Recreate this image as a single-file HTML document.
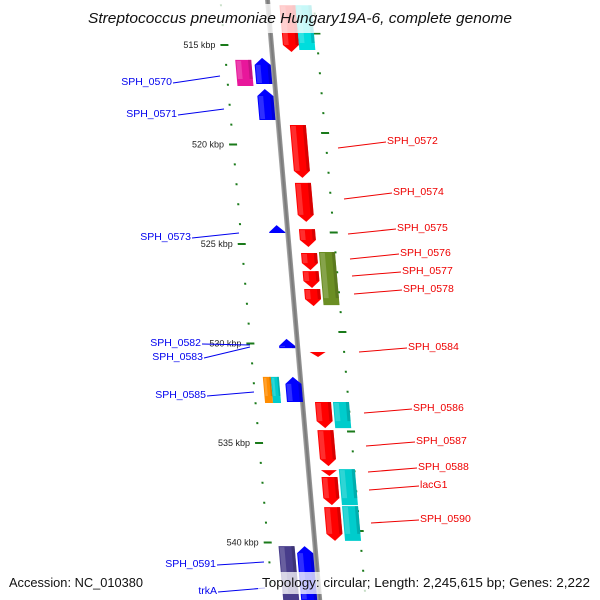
<!DOCTYPE html>
<html><head><meta charset="utf-8"><style>
html,body{margin:0;padding:0;background:#fff;}
svg{display:block;font-family:"Liberation Sans","DejaVu Sans",sans-serif;}
</style></head><body>
<svg id="chart" width="600" height="600" viewBox="0 0 600 600">
<defs>
<linearGradient id="bbg" x1="0" x2="1"><stop offset="0" stop-color="#aaa"/><stop offset="0.5" stop-color="#777"/><stop offset="1" stop-color="#999"/></linearGradient>
</defs>
<g id="tilt" transform="matrix(1,0,0.087,1,0,0)">
<rect x="265" y="0" width="5" height="600" fill="url(#bbg)"/>
<g id="ticks"></g>
<g id="genes"></g>
</g>
<g id="labels"></g>
<rect x="82" y="4" width="436" height="29" fill="#fff" fill-opacity="0.78"/>
<text x="300" y="23" text-anchor="middle" font-size="15" font-style="italic" fill="#111" textLength="424" lengthAdjust="spacingAndGlyphs">Streptococcus pneumoniae Hungary19A-6, complete genome</text>
<text x="9" y="587" font-size="13" fill="#111" textLength="134" lengthAdjust="spacingAndGlyphs">Accession: NC_010380</text>
<rect x="258" y="572" width="338" height="22" fill="#fff" fill-opacity="0.75"/>
<text x="262" y="587" font-size="13" fill="#111" textLength="328" lengthAdjust="spacingAndGlyphs">Topology: circular; Length: 2,245,615 bp; Genes: 2,222</text>
</svg>
<script>
// genome data (kbp)
const geneStarts = [513.0,513.0,515.75,515.65,517.21,519.02,521.93,524.05,524.25,525.45,525.40,526.36,527.26,529.77,530.43,531.68,531.68,531.68,532.94,532.94,534.35,536.36,536.71,536.31,538.22,538.17,540.18,540.18];
const geneEnds   = [515.35,515.25,517.06,516.96,518.77,521.68,523.89,524.45,525.15,526.31,528.07,527.21,528.12,530.23,530.68,532.99,532.99,532.94,534.25,534.25,536.16,536.66,538.12,538.12,539.92,539.92,542.9,542.9];
const geneTracks = [17,33,-32,-13,-13,17,17,-13,17,17,35,17,17,-13,17,-36,-28,-10,18,36,18,18,18,36,18,36,-31,-13];
const geneKinds  = ["f","b","b","r","r","f","f","r","f","f","b","f","f","r","f","b","b","r","f","b","f","f","f","b","f","b","b","r"];
const geneColors = ["#ff0000","#00dddd","#e8179b","#0000ff","#0000ff","#ff0000","#ff0000","#0000ff","#ff0000","#ff0000","#6b8e23","#ff0000","#ff0000","#0000ff","#ff0000","#ff8c00","#00cccc","#0000ff","#ff0000","#00cccc","#ff0000","#ff0000","#ff0000","#00cccc","#ff0000","#00cccc","#483d8b","#0000ff"];
const geneWidths = [16,16,16,16,16,16,16,16,16,16,16,16,16,16,16,8,8,16,16,16,16,16,16,16,16,16,16,16];
const tickStart = 512, tickEnd = 543;
const leftLabels = ["SPH_0570","SPH_0571","SPH_0573","SPH_0582","SPH_0583","SPH_0585","SPH_0591","trkA"];
const leftLabelY = [81,113,236,342,356,394,563,590];
const leftLabelEnd = [172,177,191,201,203,206,216,217];
const leftLineTo = [[220,76],[224,109],[239,233],[250,345],[250,347],[254,392],[264,562],[265,588]];
const rightLabels = ["SPH_0572","SPH_0574","SPH_0575","SPH_0576","SPH_0577","SPH_0578","SPH_0584","SPH_0586","SPH_0587","SPH_0588","lacG1","SPH_0590"];
const rightLabelY = [140,191,227,252,270,288,346,407,440,466,484,518];
const rightLabelX = [387,393,397,400,402,403,408,413,416,418,420,420];
const rightLineFrom = [[338,148],[344,199],[348,234],[350,259],[352,276],[354,294],[359,352],[364,413],[366,446],[368,472],[369,490],[371,523]];

const NS="http://www.w3.org/2000/svg";
const BB=267.5;
function yOf(k){return 45+(k-515)*19.9;}
function mk(tag,attrs,parent){const e=document.createElementNS(NS,tag);for(const a in attrs)e.setAttribute(a,attrs[a]);parent.appendChild(e);return e;}
function shade(hex,f){let n=parseInt(hex.slice(1),16);let r=n>>16,g=(n>>8)&255,b=n&255;
 const m=c=>Math.max(0,Math.min(255,Math.round(f>0?c+(255-c)*f:c*(1+f))));return "rgb("+m(r)+","+m(g)+","+m(b)+")";}

const ticks=document.getElementById('ticks');
for(let k=tickStart;k<=tickEnd;k++){
  const major=k%5===0;
  const yl=yOf(k), yr=yOf(k)-11.5;
  const t1=mk('rect',{x:BB-47-(major?4:1),y:yl-1,width:major?8:2,height:2,fill:"#1a7a1a"},ticks);
  
  
  const t2=mk('rect',{x:BB+46-(major?4:1),y:yr-1,width:major?8:2,height:2,fill:"#1a7a1a"},ticks);
  
  
  if(major){
    const tx=BB-56+0.087*yl;
    const lbl=mk('text',{x:tx,y:yl+3,"font-size":"9","text-anchor":"end",fill:"#222"},document.getElementById('labels'));
    lbl.textContent=k+" kbp";
    
    
  }
}
const genes=document.getElementById('genes');
for(let i=0;i<geneStarts.length;i++){
  const y0=yOf(geneStarts[i]), y1=yOf(geneEnds[i]);
  const w=geneWidths[i], cx=BB+2.5+geneTracks[i], x0=cx-w/2, x1=cx+w/2;
  const len=y1-y0, kind=geneKinds[i], ah=Math.min(7,len);
  let pts;
  if(kind==="f") pts=[[x0,y0],[x1,y0],[x1,y1-ah],[cx,y1],[x0,y1-ah]];
  else if(kind==="r") pts=[[cx,y0],[x1,y0+ah],[x1,y1],[x0,y1],[x0,y0+ah]];
  else pts=[[x0,y0],[x1,y0],[x1,y1],[x0,y1]];
  const g=mk('g',{},genes);
  
  
  mk('polygon',{points:pts.map(p=>p.join(',')).join(' '),fill:geneColors[i]},g);
  mk('rect',{x:x0+1,y:y0+(kind==="r"?ah:1),width:w*0.3,height:Math.max(0,len-ah-1),fill:shade(geneColors[i],0.3),opacity:0.6},g);
  mk('rect',{x:x1-w*0.2,y:y0+(kind==="r"?ah:0),width:w*0.2,height:Math.max(0,len-ah),fill:shade(geneColors[i],-0.25),opacity:0.6},g);
}
const labels=document.getElementById('labels');
leftLabels.forEach((s,i)=>{
  const t=mk('text',{x:leftLabelEnd[i],y:leftLabelY[i]+4,"font-size":"10.5","text-anchor":"end",fill:"#0000ee"},labels);
  t.textContent=s;
  
  
  const l=mk('line',{x1:leftLabelEnd[i]+1,y1:leftLabelY[i]+2,x2:leftLineTo[i][0],y2:leftLineTo[i][1],stroke:"#0000ee","stroke-width":1},labels);
  
  
});
rightLabels.forEach((s,i)=>{
  const t=mk('text',{x:rightLabelX[i],y:rightLabelY[i]+4,"font-size":"10.5",fill:"#ee0000"},labels);
  t.textContent=s;
  
  
  const l=mk('line',{x1:rightLineFrom[i][0],y1:rightLineFrom[i][1],x2:rightLabelX[i]-1,y2:rightLabelY[i]+2,stroke:"#ee0000","stroke-width":1},labels);
  
  
});
</script>
</body></html>
